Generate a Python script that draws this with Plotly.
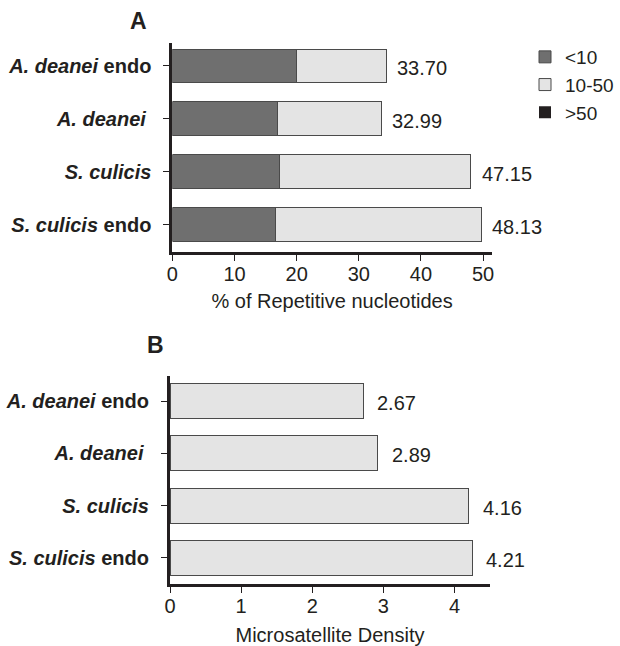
import plotly.graph_objects as go

# ---- data ----
categories = [
    "<b><i>A. deanei</i> endo</b>",
    "<b><i>A. deanei</i> </b>",
    "<b><i>S. culicis</i></b>",
    "<b><i>S. culicis</i> endo</b>",
]
lt10 = [19.9, 16.9, 17.2, 16.6]          # dark segment (<10)
b10_50 = [14.5, 16.7, 30.8, 33.1]        # light segment (10-50)
gt50 = [0, 0, 0, 0]                      # >50 (not visible)
rep_labels = ["33.70", "32.99", "47.15", "48.13"]

density = [2.72, 2.92, 4.20, 4.25]
density_labels = ["2.67", "2.89", "4.16", "4.21"]

x_ticks_a = [0, 10, 20, 30, 40, 50]
x_ticks_b = [0, 1, 2, 3, 4]

FONT = "Liberation Sans, Arial, sans-serif"
DARK = "#6f6f6f"
LIGHT = "#e4e4e4"
BLACK = "#231f20"
EDGE = "#4a4a4a"

fig = go.Figure()

fig.add_trace(go.Bar(y=categories, x=lt10, orientation="h", name="<10",
                     marker=dict(color=DARK, line=dict(color=EDGE, width=1)),
                     width=0.64, xaxis="x", yaxis="y"))
fig.add_trace(go.Bar(y=categories, x=b10_50, orientation="h", name="10-50",
                     marker=dict(color=LIGHT, line=dict(color=EDGE, width=1)),
                     width=0.64, xaxis="x", yaxis="y"))
fig.add_trace(go.Bar(y=categories, x=gt50, orientation="h", name=">50",
                     marker=dict(color=BLACK, line=dict(color=BLACK, width=0)),
                     width=0.64, xaxis="x", yaxis="y"))

fig.add_trace(go.Bar(y=categories, x=density, orientation="h", showlegend=False,
                     marker=dict(color=LIGHT, line=dict(color=EDGE, width=1)),
                     width=0.67, xaxis="x2", yaxis="y2"))

annotations = []
totals = [a + b + c for a, b, c in zip(lt10, b10_50, gt50)]
for cat, tot, lab in zip(categories, totals, rep_labels):
    annotations.append(dict(x=tot, y=cat, xref="x", yref="y", text=lab,
                            showarrow=False, xanchor="left", xshift=9, yshift=-2,
                            font=dict(size=20, color="#231f20", family=FONT)))
for cat, val, lab in zip(categories, density, density_labels):
    annotations.append(dict(x=val, y=cat, xref="x2", yref="y2", text=lab,
                            showarrow=False, xanchor="left", xshift=12, yshift=-2,
                            font=dict(size=20, color="#231f20", family=FONT)))

annotations.append(dict(x=138 / 620, y=1 - 21 / 646, xref="paper", yref="paper",
                        text="<b>A</b>", showarrow=False,
                        xanchor="center", yanchor="middle",
                        font=dict(size=23, color="#231f20", family=FONT)))
annotations.append(dict(x=156 / 620, y=1 - 345 / 646, xref="paper", yref="paper",
                        text="<b>B</b>", showarrow=False,
                        xanchor="center", yanchor="middle",
                        font=dict(size=23, color="#231f20", family=FONT)))

axis_common = dict(showline=True, linewidth=3, linecolor="#231f20",
                   ticks="outside", ticklen=6, tickwidth=1.3, tickcolor="#231f20",
                   showgrid=False, zeroline=False, automargin=False,
                   tickfont=dict(size=20, color="#231f20", family=FONT))

fig.update_layout(
    width=620, height=646,
    margin=dict(l=0, r=0, t=0, b=0, autoexpand=False),
    paper_bgcolor="white", plot_bgcolor="white",
    barmode="stack",
    font=dict(family=FONT, color="#231f20"),
    xaxis=dict(domain=[172.4 / 620, 491.7 / 620], range=[0, 51.4],
               tickvals=x_ticks_a, anchor="y", ticklabelstandoff=-4,
               title=dict(text="% of Repetitive nucleotides", standoff=10,
                          font=dict(size=20, family=FONT, color="#231f20")),
               **axis_common),
    yaxis=dict(domain=[1 - 252 / 646, 1 - 43 / 646], range=[3.52, -0.435],
               type="category", anchor="x", ticklabelstandoff=8,
               **axis_common),
    xaxis2=dict(domain=[170 / 620, 490 / 620], range=[0, 4.5],
                tickvals=x_ticks_b, anchor="y2", ticklabelstandoff=-4,
                title=dict(text="Microsatellite Density", standoff=18,
                           font=dict(size=20, family=FONT, color="#231f20")),
                **axis_common),
    yaxis2=dict(domain=[1 - 584 / 646, 1 - 376 / 646], range=[3.497, -0.478],
                type="category", anchor="x2", ticklabelstandoff=8,
                **axis_common),
    legend=dict(x=525 / 620, y=1 - 38 / 646, xanchor="left", yanchor="top",
                font=dict(size=19, family=FONT, color="#231f20"),
                bgcolor="rgba(0,0,0,0)", traceorder="normal",
                itemwidth=30, tracegroupgap=0),
    annotations=annotations,
)

fig.write_html("out.html",
               config={"displayModeBar": False},
               post_script="document.body.style.margin='0px';"
                           "document.body.style.overflow='hidden';")
